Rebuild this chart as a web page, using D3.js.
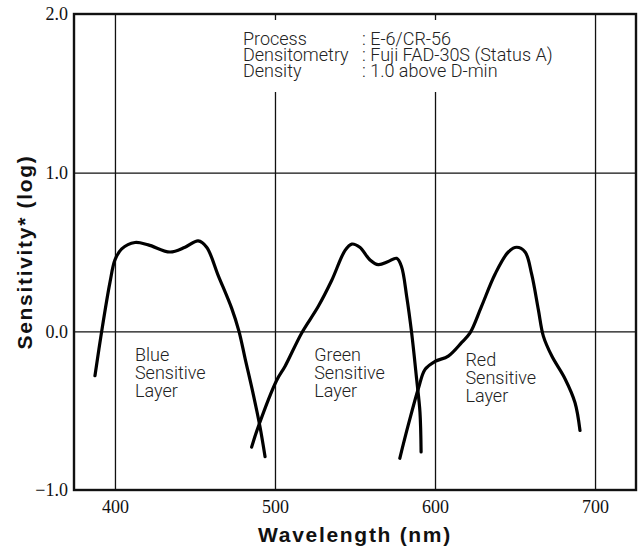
<!DOCTYPE html>
<html>
<head>
<meta charset="utf-8">
<script src="https://cdn.jsdelivr.net/npm/d3@7"></script>
<style>
  body { margin: 0; background: #fff; }
  .tick text { font-family: "Liberation Serif", serif; font-size: 18px; fill: #111; }
  .note { font-family: Roboto, "Liberation Sans", sans-serif; font-weight: 300; font-size: 18px; fill: #222; }
  .layer { font-family: Roboto, "Liberation Sans", sans-serif; font-weight: 300; font-size: 18px; fill: #222; }
  .title { font-family: "Liberation Sans", Arial, sans-serif; font-weight: bold; font-size: 21px; letter-spacing: 1.7px; fill: #111; }
</style>
</head>
<body>
<script>
// wavelength (nm) / log sensitivity
const blueWl  = [387.5, 391.7, 396.9, 400, 404.2, 412.5, 420.8, 434.4, 443.8, 452, 457.3, 464.6, 472.9, 477.5, 481.3, 486.5, 490.6, 493.8];
const blueVal = [-0.28, 0.0, 0.31, 0.45, 0.52, 0.56, 0.545, 0.50, 0.53, 0.57, 0.53, 0.35, 0.146, 0.0, -0.17, -0.40, -0.60, -0.79];

const greenWl  = [485.4, 489.6, 501, 506.3, 516.7, 527, 535.4, 543.8, 548, 553, 559.4, 564.6, 570.8, 576, 579, 582.3, 585.4, 588.5, 590.6, 591.3];
const greenVal = [-0.73, -0.60, -0.31, -0.22, -0.01, 0.156, 0.32, 0.51, 0.55, 0.53, 0.45, 0.42, 0.44, 0.46, 0.41, 0.22, -0.01, -0.30, -0.51, -0.76];

const redWl  = [578, 583.3, 589.6, 593.8, 600, 608.3, 616.7, 621.9, 629, 637.5, 645.8, 651, 656.3, 660.4, 664.6, 667.7, 673, 681.3, 687.5, 690.6];
const redVal = [-0.80, -0.59, -0.36, -0.24, -0.19, -0.156, -0.07, -0.01, 0.156, 0.36, 0.50, 0.53, 0.50, 0.36, 0.135, -0.03, -0.156, -0.30, -0.45, -0.625];

const xTicks = [400, 500, 600, 700];
const yTicks = [-1, 0, 1, 2];

const noteKeys = ['Process', 'Densitometry', 'Density'];
const noteVals = [': E-6/CR-56', ': Fuji FAD-30S (Status A)', ': 1.0 above D-min'];

const layerLabels = [
  { lines: ['Blue', 'Sensitive', 'Layer'], wl: 412.5, val: -0.19 },
  { lines: ['Green', 'Sensitive', 'Layer'], wl: 524.5, val: -0.19 },
  { lines: ['Red', 'Sensitive', 'Layer'], wl: 619, val: -0.22 },
];

const width = 644, height = 554;
const margin = { left: 74, right: 8, top: 14, bottom: 64 };
const w = width - margin.left - margin.right;
const h = height - margin.top - margin.bottom;

const svg = d3.select('body').append('svg')
  .attr('width', width)
  .attr('height', height);

const g = svg.append('g')
  .attr('transform', `translate(${margin.left}, ${margin.top})`);

const x = d3.scaleLinear().domain([374.4, 725.6]).range([0, w]);
const y = d3.scaleLinear().domain([-1, 2]).range([h, 0]);

// grid
g.append('g')
  .attr('transform', `translate(0, ${h})`)
  .call(d3.axisBottom(x).tickValues(xTicks).tickSize(-h).tickFormat(''))
  .call(a => a.select('.domain').remove())
  .call(a => a.selectAll('line').attr('stroke', '#111').attr('stroke-width', 1.3));

g.append('g')
  .call(d3.axisLeft(y).tickValues([0, 1]).tickSize(-w).tickFormat(''))
  .call(a => a.select('.domain').remove())
  .call(a => a.selectAll('line').attr('stroke', '#111').attr('stroke-width', 1.3));

// note block (blanks the grid behind it)
const noteX = x(480), colonX = x(554.4), noteY = 31;
g.append('rect')
  .attr('x', noteX - 6).attr('y', 6)
  .attr('width', 336).attr('height', 72)
  .attr('fill', '#fff');

noteKeys.forEach((k, i) => {
  g.append('text').attr('class', 'note')
    .attr('x', noteX).attr('y', noteY + i * 16).text(k);
  g.append('text').attr('class', 'note')
    .attr('x', colonX).attr('y', noteY + i * 16).text(noteVals[i]);
});

// frame
g.append('rect')
  .attr('width', w).attr('height', h)
  .attr('fill', 'none')
  .attr('stroke', '#111')
  .attr('stroke-width', 2.4);

// tick labels
g.append('g')
  .attr('transform', `translate(0, ${h})`)
  .call(d3.axisBottom(x).tickValues(xTicks).tickSize(0).tickPadding(10).tickFormat(d3.format('d')))
  .call(a => a.select('.domain').remove());

g.append('g')
  .call(d3.axisLeft(y).tickValues(yTicks).tickSize(0).tickPadding(6).tickFormat(d3.format('.1f')))
  .call(a => a.select('.domain').remove());

// curves
const line = d3.line()
  .x(d => x(d[0]))
  .y(d => y(d[1]))
  .curve(d3.curveCatmullRom.alpha(0.5));

[[blueWl, blueVal], [greenWl, greenVal], [redWl, redVal]].forEach(([wl, val]) => {
  g.append('path')
    .datum(d3.zip(wl, val))
    .attr('d', line)
    .attr('fill', 'none')
    .attr('stroke', '#000')
    .attr('stroke-width', 3.2)
    .attr('stroke-linecap', 'round');
});

// layer labels
layerLabels.forEach(l => {
  const t = g.append('text').attr('class', 'layer')
    .attr('x', x(l.wl)).attr('y', y(l.val));
  l.lines.forEach((s, i) => {
    t.append('tspan').attr('x', x(l.wl)).attr('dy', i ? 18 : 0).text(s);
  });
});

// axis titles
svg.append('text').attr('class', 'title')
  .attr('text-anchor', 'middle')
  .attr('x', margin.left + w / 2)
  .attr('y', 542)
  .text('Wavelength (nm)');

svg.append('text').attr('class', 'title')
  .attr('text-anchor', 'middle')
  .attr('transform', `translate(32, ${margin.top + h / 2}) rotate(-90)`)
  .text('Sensitivity* (log)');
</script>
</body>
</html>
